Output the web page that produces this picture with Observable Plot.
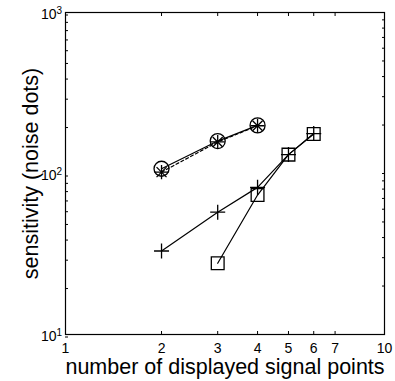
<!DOCTYPE html>
<html>
<head>
<meta charset="utf-8">
<script src="https://cdn.jsdelivr.net/npm/d3@7"></script>
<script src="https://cdn.jsdelivr.net/npm/@observablehq/plot@0.6"></script>
<style>
  html, body { margin: 0; padding: 0; background: white; }
  #chart svg { display: block; }
</style>
</head>
<body>
<div id="chart"></div>
<script>
// Tick values
const xTicks = [1, 2, 3, 4, 5, 6, 7, 10];
const yMajor = [10, 100, 1000];
const yMinor = [20, 30, 40, 50, 60, 70, 80, 90, 200, 300, 400, 500, 600, 700, 800, 900];

// Axis labels
const xLabel = "number of displayed signal points";
const yLabel = "sensitivity (noise dots)";

// Series
const circleX = [2, 3, 4];
const circleY = [107, 159, 199];
const starX = [2, 3, 4];
const starY = [102, 157, 198];
const plusX = [2, 3, 4, 5, 6];
const plusY = [33, 57.5, 82, 131, 177];
const squareX = [3, 4, 5, 6];
const squareY = [27.7, 73.5, 131, 176];

const toRows = (xs, ys) => xs.map((x, i) => ({x, y: ys[i]}));
const circles = toRows(circleX, circleY);
const stars = toRows(starX, starY);
const pluses = toRows(plusX, plusY);
const squares = toRows(squareX, squareY);

const yAll = [...yMajor, ...yMinor].sort((a, b) => a - b);
const isMajor = d => yMajor.includes(d);

const lw = 1.2;
const mw = 1.3;

const chart = Plot.plot({
  width: 395,
  height: 381,
  marginLeft: 65,
  marginRight: 11,
  marginTop: 12,
  marginBottom: 47,
  style: {fontFamily: "'Liberation Sans', Arial, Helvetica, sans-serif", fontSize: "14px", background: "white", color: "black"},
  x: {type: "log", domain: [1, 10]},
  y: {type: "log", domain: [10, 1000]},
  marks: [
    Plot.frame({stroke: "black", strokeWidth: 1.2}),
    // bottom axis with labels, inward ticks
    Plot.axisX({anchor: "bottom", ticks: xTicks, tickSize: -3, tickPadding: 12, tickFormat: d => String(d), label: null, fontSize: 14}),
    Plot.axisX({anchor: "top", ticks: xTicks, tickSize: -3, tickFormat: () => "", label: null}),
    // left axis
    Plot.axisY({anchor: "left", ticks: yAll, tickSize: -3, tickPadding: 12, dy: 2.5, tickFormat: d => isMajor(d) ? "10" : "", label: null, fontSize: 14}),
    Plot.axisY({anchor: "right", ticks: yAll, tickSize: -3, tickFormat: () => "", label: null}),
    // exponents
    Plot.text(yMajor, {frameAnchor: "left", y: d => d, text: d => String(Math.round(Math.log10(d))), textAnchor: "start", lineAnchor: "bottom", dx: -9, dy: 1, fontSize: 10}),
    // axis titles
    Plot.text([xLabel], {frameAnchor: "bottom", text: d => d, textAnchor: "middle", lineAnchor: "bottom", dy: 39, fontSize: 21.5}),
    Plot.text([yLabel], {frameAnchor: "left", text: d => d, rotate: -90, textAnchor: "middle", lineAnchor: "bottom", dx: -28, fontSize: 21.5}),
    // lines
    Plot.line(circles, {x: "x", y: "y", stroke: "black", strokeWidth: lw}),
    Plot.line(stars, {x: "x", y: "y", stroke: "black", strokeWidth: lw, strokeDasharray: "3,2.5"}),
    Plot.line(pluses, {x: "x", y: "y", stroke: "black", strokeWidth: lw}),
    Plot.line(squares, {x: "x", y: "y", stroke: "black", strokeWidth: lw}),
    // markers
    Plot.dot(circles, {x: "x", y: "y", symbol: "circle", r: 7.5, fill: "none", stroke: "black", strokeWidth: mw}),
    Plot.dot(stars, {x: "x", y: "y", symbol: "plus", r: 4.6, fill: "none", stroke: "black", strokeWidth: mw}),
    Plot.dot(stars, {x: "x", y: "y", symbol: "times", r: 4.6, fill: "none", stroke: "black", strokeWidth: mw}),
    Plot.dot(pluses, {x: "x", y: "y", symbol: "plus", r: 4.9, fill: "none", stroke: "black", strokeWidth: mw}),
    Plot.dot(squares, {x: "x", y: "y", symbol: "square", r: 7.2, fill: "none", stroke: "black", strokeWidth: mw})
  ]
});
document.getElementById("chart").appendChild(chart);
</script>
</body>
</html>
